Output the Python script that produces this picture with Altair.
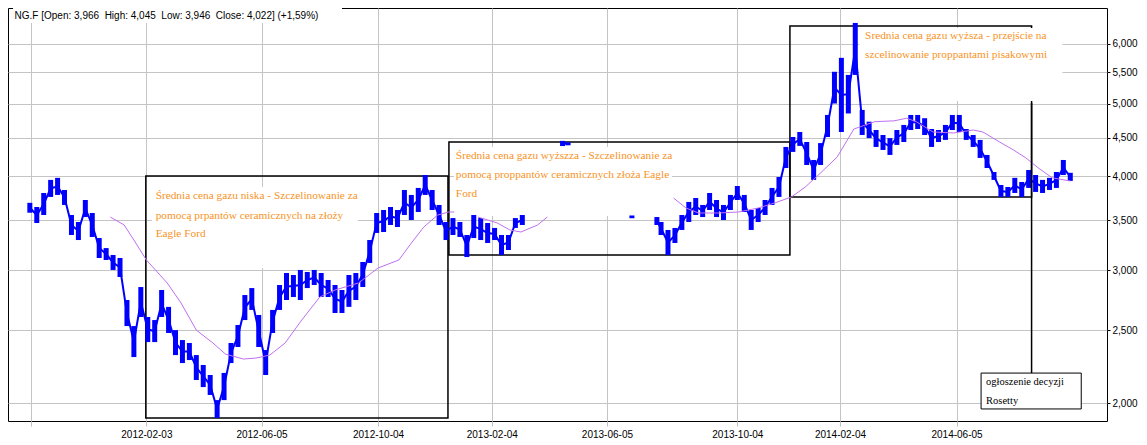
import altair as alt
import pandas as pd

# ---- price bars (session index, high, low) ----
bar_t = [15, 20, 25, 30, 35, 40, 45, 50, 55, 60, 65, 70, 75, 80, 85, 90, 95, 100, 105, 110,
         115, 120, 125, 130, 135, 140, 145, 150, 155, 160, 165, 170, 175, 180, 185, 190, 195, 200,
         205, 210, 215, 220, 225, 230, 235, 240, 245, 250, 255, 260, 265, 270, 275, 280, 285, 290,
         295, 300, 305, 310, 315, 320, 325, 330, 335, 340, 345, 350, 355, 360, 365, 370,
         399, 403, 449,
         467, 470, 475, 480, 485, 490, 495, 500, 505, 510, 515, 520, 525, 530, 535, 540, 545, 550,
         555, 560, 565, 570, 575, 580, 585, 590, 595, 600, 605, 610, 615, 620, 625, 630, 635, 640,
         645, 650, 655, 660, 665, 670, 675, 680, 685, 690, 695, 700, 705, 710, 715, 720, 725, 730,
         735, 740, 745, 750, 755, 760, 765]
bar_high = [3690, 3643, 3803, 3958, 3983, 3838, 3555, 3480, 3722, 3577, 3313, 3213, 3146, 3117, 2741,
            2531, 2852, 2602, 2578, 2826, 2684, 2500, 2425, 2403, 2316, 2247, 2179, 2018, 2193, 2403,
            2539, 2783, 2843, 2618, 2352, 2659, 2870, 2977, 2959, 3005, 2986, 3005, 2977, 2914, 2870,
            2826, 2959, 2977, 3079, 3293, 3577, 3610, 3643, 3610, 3838, 3780, 3862, 4018, 3838, 3666,
            3480, 3522, 3480, 3344, 3555, 3522, 3469, 3417, 3344, 3344, 3522, 3555,
            4460, 4440, 3550,
            3533, 3480, 3396, 3417, 3555, 3700, 3745, 3666, 3803, 3722, 3666, 3780, 3885, 3780, 3610,
            3632, 3722, 3862, 3993, 4378, 4513, 4583, 4445, 4207, 4430, 4828, 5510, 5750, 5457, 6398,
            4903, 4730, 4611, 4541, 4498, 4611, 4683, 4828, 4828, 4780, 4625, 4611, 4683, 4828, 4828,
            4625, 4541, 4473, 4272, 4055, 3897, 3873, 3983, 3933, 4080, 4018, 3958, 3983, 4055, 4207,
            4045]
bar_low = [3580, 3469, 3555, 3757, 3780, 3666, 3344, 3293, 3533, 3324, 3117, 3098, 3005, 2941, 2531,
           2302, 2602, 2410, 2410, 2602, 2478, 2316, 2260, 2281, 2146, 2100, 2050, 1911, 2018, 2260,
           2374, 2578, 2659, 2374, 2179, 2478, 2659, 2741, 2766, 2741, 2843, 2870, 2766, 2766, 2634,
           2634, 2684, 2741, 2852, 3070, 3365, 3375, 3448, 3427, 3555, 3501, 3588, 3780, 3610, 3448,
           3293, 3344, 3324, 3126, 3313, 3293, 3263, 3293, 3146, 3194, 3417, 3448,
           4390, 4400, 3520,
           3448, 3344, 3146, 3263, 3396, 3480, 3555, 3533, 3610, 3533, 3501, 3610, 3722, 3588, 3396,
           3480, 3555, 3666, 3757, 4105, 4312, 4392, 4143, 3958, 4143, 4513, 5000, 4583, 4850, 5457,
           4541, 4498, 4378, 4338, 4272, 4405, 4445, 4611, 4625, 4541, 4378, 4445, 4473, 4611, 4583,
           4473, 4378, 4233, 4105, 3958, 3757, 3757, 3803, 3757, 3862, 3815, 3803, 3838, 3862, 4018,
           3946]
# contiguous runs of bars (for the connecting price line)
bar_run = [1] * 72 + [2, 2, 3] + [4] * 61

# ---- moving average (visible segments) ----
ma_t = [73, 83, 90, 99, 114, 124, 135, 147, 156, 169, 178, 188, 199, 211, 224, 235, 252, 266, 281,
        290, 299, 309, 317, 321,
        338, 352, 361, 369, 381, 388,
        479, 488, 497, 511, 526, 540, 552, 564, 574, 585, 597, 609, 624, 638, 647, 654, 666, 681,
        695, 702, 714, 724, 733, 742, 752, 765]
ma_v = [3533, 3448, 3293, 3098, 2888, 2716, 2500, 2403, 2323, 2288, 2295, 2316, 2403, 2578, 2766,
        2826, 2888, 3023, 3098, 3263, 3427, 3555, 3588, 3588,
        3533, 3469, 3396, 3375, 3448, 3533,
        3745, 3632, 3577, 3577, 3588, 3632, 3689, 3757, 3873, 4043, 4246, 4625, 4730, 4742, 4780,
        4730, 4583, 4569, 4611, 4583, 4445, 4338, 4233, 4105, 3983, 3945]
ma_seg = [1] * 24 + [2] * 6 + [3] * 26

# ---- axis ticks ----
tick_t = [16, 99, 182, 266, 348, 431, 525, 599, 683]
tick_labels = ["", "2012-02-03", "2012-06-05", "2012-10-04", "2013-02-04", "2013-06-05",
               "2013-10-04", "2014-02-04", "2014-06-05"]
price_ticks = [2000, 2500, 3000, 3500, 4000, 4500, 5000, 5500, 6000]

# ---- annotation boxes (t0, t1, low, high) ----
box_t0 = [98.6, 317.1, 562.9]
box_t1 = [316.4, 562.9, 737.1]
box_lo = [1910, 3146, 3757]
box_hi = [4006, 4445, 6339]

# white label backgrounds
bg_t0 = [2.9, 102.9, 320.7, 612.9]
bg_t1 = [240, 251.4, 477.9, 759.3]
bg_lo = [6398, 3023, 3544, 5039]
bg_hi = [6697, 3873, 4378, 6301]

# note box + connector
note_t0, note_t1, note_lo, note_hi = [700.7], [772.9], [1964], [2192]
conn_t, conn_lo, conn_hi = [737.1], [2192], [5009]

# ---- texts ----
orange_t = [105.7, 105.7, 105.7, 322.1, 322.1, 322.1, 617.1, 617.1]
orange_v = [3728, 3517, 3319, 4219, 3978, 3760, 6092, 5743]
orange_txt = ["Średnia cena gazu niska - Szczelinowanie za",
              "pomocą prpantów ceramicznych na złoży",
              "Eagle Ford",
              "Średnia cena gazu wyższza - Szczelinowanie za",
              "pomocą proppantów ceramicznych złoża Eagle",
              "Ford",
              "Srednia cena gazu wyższa - przejście na",
              "szcelinowanie proppantami pisakowymi"]
note_txt_t = [704.3, 704.3]
note_txt_v = [2113, 1994]
note_txt = ["ogłoszenie decyzji", "Rosetty"]
header_t, header_v = [4.0], [6476]
header_txt = ["NG.F [Open: 3,966\u00a0 High: 4,045\u00a0 Low: 3,946\u00a0 Close: 4,022] (+1,59%)"]

# ---------------------------------------------------------------
bars = pd.DataFrame({"t": bar_t, "high": bar_high, "low": bar_low, "run": bar_run})
bars["mid"] = (bars["high"] * bars["low"]) ** 0.5
ma = pd.DataFrame({"t": ma_t, "v": ma_v, "seg": ma_seg})
boxes = pd.DataFrame({"t0": box_t0, "t1": box_t1, "lo": box_lo, "hi": box_hi})
bgs = pd.DataFrame({"t0": bg_t0, "t1": bg_t1, "lo": bg_lo, "hi": bg_hi})
note = pd.DataFrame({"t0": note_t0, "t1": note_t1, "lo": note_lo, "hi": note_hi})
conn = pd.DataFrame({"t": conn_t, "lo": conn_lo, "hi": conn_hi})
otext = pd.DataFrame({"t": orange_t, "v": orange_v, "txt": orange_txt})
ntext = pd.DataFrame({"t": note_txt_t, "v": note_txt_v, "txt": note_txt})
htext = pd.DataFrame({"t": header_t, "v": header_v, "txt": header_txt})

xs = alt.Scale(domain=[2.86, 787.86], nice=False, zero=False)
ys = alt.Scale(type="log", domain=[1893, 6697], nice=False, zero=False)

label_expr = "".join(f"datum.value == {t} ? '{l}' : " for t, l in zip(tick_t, tick_labels)) + "''"

GRID = "#c4c4c4"

x_axis = alt.Axis(values=tick_t, labelExpr=label_expr, title=None, grid=True,
                  gridColor=GRID, gridWidth=1, gridOpacity=1, tickColor="#c0c0c0", tickSize=5,
                  domain=False, labelFont="Liberation Sans", labelFontSize=10, labelColor="black",
                  labelPadding=3, labelFlush=False)
y_axis = alt.Axis(orient="right", values=price_ticks, format=",.0f", title=None, grid=True,
                  gridColor=GRID, gridWidth=1, gridOpacity=1, tickColor="black", tickSize=3,
                  domain=False, labelFont="Liberation Sans", labelFontSize=10, labelColor="black",
                  labelPadding=2)

# axis carrier layer (invisible) that owns the axes
axis_layer = alt.Chart(boxes).mark_point(opacity=0).encode(
    x=alt.X("t0:Q", scale=xs, axis=x_axis), y=alt.Y("lo:Q", scale=ys, axis=y_axis))

box_layer = alt.Chart(boxes).mark_rect(fillOpacity=0, stroke="black", strokeWidth=1.5).encode(
    x=alt.X("t0:Q", scale=xs), x2="t1:Q", y=alt.Y("lo:Q", scale=ys), y2="hi:Q")

bg_layer = alt.Chart(bgs).mark_rect(fill="white").encode(
    x=alt.X("t0:Q", scale=xs), x2="t1:Q", y=alt.Y("lo:Q", scale=ys), y2="hi:Q")

bar_layer = alt.Chart(bars).mark_bar(size=5, color="#0000ff").encode(
    x=alt.X("t:Q", scale=xs), y=alt.Y("high:Q", scale=ys), y2="low:Q")

price_line = alt.Chart(bars).mark_line(color="#0000ff", strokeWidth=2).encode(
    x=alt.X("t:Q", scale=xs), y=alt.Y("mid:Q", scale=ys), detail="run:N")

ma_layer = alt.Chart(ma).mark_line(color="#c070f0", strokeWidth=1).encode(
    x=alt.X("t:Q", scale=xs), y=alt.Y("v:Q", scale=ys), detail="seg:N")

conn_layer = alt.Chart(conn).mark_rule(color="black", strokeWidth=1.5).encode(
    x=alt.X("t:Q", scale=xs), y=alt.Y("lo:Q", scale=ys), y2="hi:Q")

note_layer = alt.Chart(note).mark_rect(fill="white", stroke="black", strokeWidth=1).encode(
    x=alt.X("t0:Q", scale=xs), x2="t1:Q", y=alt.Y("lo:Q", scale=ys), y2="hi:Q")

otext_layer = alt.Chart(otext).mark_text(align="left", baseline="alphabetic",
                                         font="Liberation Serif", fontSize=11.3,
                                         color="#f7931e").encode(
    x=alt.X("t:Q", scale=xs), y=alt.Y("v:Q", scale=ys), text="txt:N")

ntext_layer = alt.Chart(ntext).mark_text(align="left", baseline="alphabetic",
                                         font="Liberation Serif", fontSize=10.5,
                                         color="black").encode(
    x=alt.X("t:Q", scale=xs), y=alt.Y("v:Q", scale=ys), text="txt:N")

htext_layer = alt.Chart(htext).mark_text(align="left", baseline="alphabetic",
                                         font="Liberation Sans", fontSize=10,
                                         color="black").encode(
    x=alt.X("t:Q", scale=xs), y=alt.Y("v:Q", scale=ys), text="txt:N")

chart = alt.layer(axis_layer, box_layer, bg_layer, bar_layer, price_line, ma_layer, conn_layer,
                  note_layer, otext_layer, ntext_layer, htext_layer).properties(
    width=1099, height=413, padding={"left": 0, "top": 0, "right": 0, "bottom": 0},
    background="white"
).configure_view(stroke="black", strokeWidth=1)

chart.save("out.html", embed_options={"renderer": "svg", "actions": False})
